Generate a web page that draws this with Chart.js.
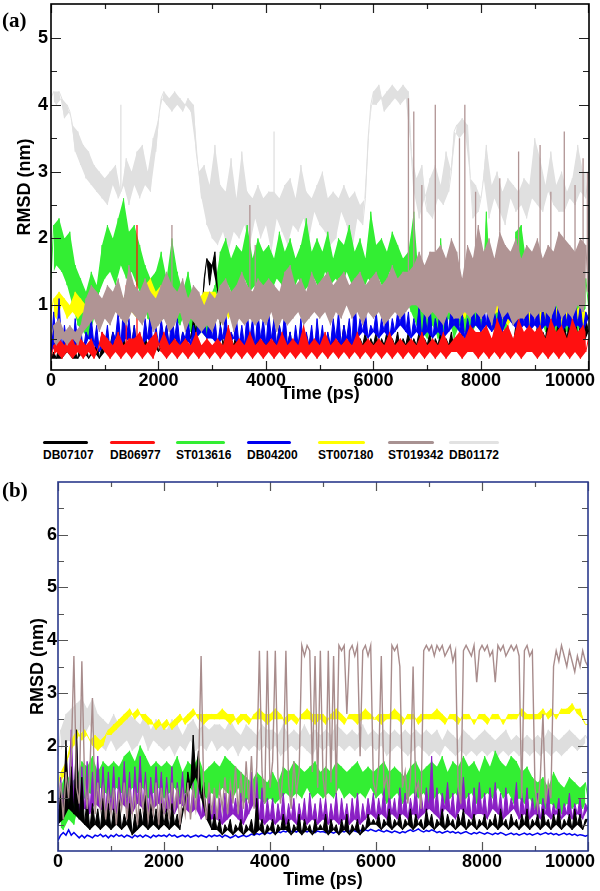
<!DOCTYPE html>
<html>
<head>
<meta charset="utf-8">
<script src="https://cdn.jsdelivr.net/npm/chart.js@4.4.1/dist/chart.umd.min.js"></script>
<style>
body { margin: 0; background: #fff; width: 600px; height: 891px; position: relative; overflow: hidden; font-family: "Liberation Sans", Arial, sans-serif; }
canvas { position: absolute; left: 0; }
#chartA { top: 0; }
#chartB { top: 470px; }
.tag { position: absolute; left: 2px; font-family: "Liberation Serif", "DejaVu Serif", serif; font-weight: bold; font-size: 21px; line-height: 22px; }
.item { position: absolute; top: 441px; }
.item .ln { height: 3px; border-radius: 2px; }
.item .tx { font-weight: bold; font-size: 12px; line-height: 14px; text-align: center; margin-top: 4px; white-space: nowrap; }
</style>
</head>
<body>
<canvas id="chartA" width="600" height="407"></canvas>
<canvas id="chartB" width="600" height="421"></canvas>
<div class="tag" style="top:9px">(a)</div>
<div class="tag" style="top:479px">(b)</div>

<div class="item" style="left:43px;width:45px"><div class="ln" style="background:#000"></div><div class="tx">DB07107</div></div>
<div class="item" style="left:110px;width:45px"><div class="ln" style="background:#ff1010"></div><div class="tx">DB06977</div></div>
<div class="item" style="left:176px;width:49px"><div class="ln" style="background:#33ee33"></div><div class="tx">ST013616</div></div>
<div class="item" style="left:247px;width:44px"><div class="ln" style="background:#0000f0"></div><div class="tx">DB04200</div></div>
<div class="item" style="left:318px;width:47px"><div class="ln" style="background:#ffff00"></div><div class="tx">ST007180</div></div>
<div class="item" style="left:388px;width:46px"><div class="ln" style="background:#a89292"></div><div class="tx">ST019342</div></div>
<div class="item" style="left:449px;width:50px"><div class="ln" style="background:#e2e2e2"></div><div class="tx">DB01172</div></div>

<script>
// sampled every 50 ps
var timePs = [];
for (var t = 0; t <= 10000; t += 50) timePs.push(t);

var names = ['DB07107', 'DB06977', 'ST013616', 'DB04200', 'ST007180', 'ST019342', 'DB01172'];
var xTickLabels = [0, 2000, 4000, 6000, 8000, 10000];
var xMinorTicks = [1000, 3000, 5000, 7000, 9000];
var yTicksA = [1, 2, 3, 4, 5];
var yMinorA = [0.5, 1.5, 2.5, 3.5, 4.5];
var yTicksB = [1, 2, 3, 4, 5, 6];
var yMinorB = [0.5, 1.5, 2.5, 3.5, 4.5, 5.5, 6.5];

// ---- panel (a) ----
var rmsdA_DB07107 = [
0.2,0.3,0.2,0.4,0.2,0.3,0.3,0.4,0.2,0.3,0.2,0.5,0.3,0.4,0.2,0.3,0.3,0.5,0.2,0.4,
0.3,0.5,0.4,0.6,0.3,0.5,0.4,0.6,0.3,0.5,0.4,0.7,0.3,0.5,0.4,0.6,0.3,0.5,0.4,0.6,
0.3,0.5,0.4,0.7,0.3,0.6,0.4,0.5,0.3,0.6,0.4,0.7,0.5,0.8,0.6,0.9,0.8,1.4,1.7,1.3,
1.6,1.8,1.2,0.7,0.4,0.6,0.3,0.5,0.4,0.6,0.3,0.5,0.4,0.6,0.3,0.5,0.4,0.6,0.3,0.5,
0.4,0.6,0.3,0.5,0.4,0.7,0.3,0.5,0.4,0.6,0.3,0.5,0.4,0.6,0.3,0.5,0.4,0.6,0.3,0.5,
0.4,0.6,0.3,0.5,0.4,0.6,0.3,0.5,0.4,0.7,0.3,0.5,0.4,0.6,0.3,0.5,0.4,0.6,0.3,0.5,
0.4,0.6,0.3,0.5,0.4,0.6,0.3,0.5,0.4,0.6,0.3,0.5,0.4,0.6,0.3,0.5,0.4,0.6,0.3,0.5,
0.4,0.6,0.3,0.5,0.4,0.6,0.3,0.5,0.4,0.6,0.3,0.5,0.4,0.6,0.3,0.5,0.4,0.6,0.3,0.5,
0.4,0.6,0.3,0.5,0.4,0.6,0.3,0.5,0.4,0.6,0.3,0.5,0.4,0.7,0.3,0.5,0.4,0.6,0.3,0.5,
0.4,0.7,0.3,0.6,0.5,0.8,0.4,0.7,0.5,0.9,0.4,0.7,0.5,0.8,0.4,0.9,0.5,0.7,0.4,0.8,
0.6];
var rmsdA_DB06977 = [
0.2,0.4,0.3,0.5,0.2,0.4,0.3,0.6,0.2,0.4,0.3,0.5,0.2,0.4,0.3,0.5,0.2,0.3,0.4,0.6,
0.3,0.5,0.2,0.4,0.3,0.6,0.2,0.4,0.3,0.5,0.2,0.5,0.3,0.6,0.2,0.4,0.3,0.5,0.2,0.6,
0.4,0.3,0.6,0.2,0.4,0.3,0.5,0.2,0.4,0.3,0.5,0.2,0.4,0.3,0.6,0.2,0.4,0.3,0.5,0.2,
0.4,0.3,0.5,0.2,0.4,0.3,0.7,0.2,0.4,0.3,0.5,0.2,0.4,0.3,0.6,0.2,0.4,0.3,0.5,0.2,
0.4,0.3,0.5,0.2,0.4,0.3,0.6,0.2,0.4,0.3,0.5,0.2,0.4,0.3,0.7,0.2,0.4,0.3,0.5,0.2,
0.4,0.3,0.6,0.2,0.4,0.3,0.5,0.2,0.4,0.3,0.5,0.2,0.4,0.3,0.6,0.2,0.4,0.3,0.5,0.2,
0.4,0.3,0.5,0.2,0.4,0.3,0.6,0.2,0.4,0.3,0.5,0.2,0.4,0.3,0.5,0.2,0.4,0.3,0.6,0.2,
0.4,0.3,0.5,0.2,0.4,0.3,0.6,0.2,0.4,0.3,0.5,0.3,0.6,0.2,0.5,0.3,0.7,0.3,0.6,0.2,
0.6,0.3,0.7,0.2,0.5,0.3,0.8,0.2,0.6,0.3,0.7,0.2,0.5,0.3,0.8,0.2,0.6,0.3,0.7,0.3,
0.6,0.2,0.7,0.3,0.5,0.2,0.8,0.3,0.6,0.2,0.7,0.3,0.5,0.2,0.8,0.3,0.6,0.2,0.7,0.3,
0.5];
var rmsdA_ST013616 = [
1.4,2.2,1.6,2.3,1.5,2.0,1.3,2.1,1.0,1.6,0.7,1.4,0.6,1.2,0.5,1.5,0.8,1.3,1.2,1.9,
1.4,2.2,1.5,2.0,1.3,2.3,1.6,2.6,1.4,2.1,1.5,2.2,1.3,1.9,1.1,1.6,0.8,1.4,0.7,1.5,
0.9,1.8,0.8,1.4,1.0,2.0,0.8,1.5,0.7,1.2,0.9,1.5,0.6,1.1,0.5,1.0,0.6,0.9,0.5,1.1,
0.7,1.3,1.1,1.8,1.2,2.0,1.3,1.7,1.1,1.9,1.2,1.8,1.4,2.2,1.2,1.7,1.3,2.0,1.1,1.8,
1.3,1.9,1.2,1.7,1.4,2.1,1.3,1.8,1.5,2.0,1.2,1.7,1.4,1.9,1.2,2.3,1.3,1.8,1.4,2.0,
1.2,1.8,1.5,2.1,1.3,1.7,1.4,2.0,1.2,1.9,1.5,2.2,1.3,1.8,1.4,2.0,1.2,1.7,1.4,2.4,
1.3,1.9,1.4,2.0,1.2,1.8,1.5,2.1,1.3,1.9,1.2,1.7,1.1,1.8,0.9,2.4,0.7,1.3,0.6,1.2,
0.5,1.1,0.7,1.3,0.5,2.0,0.6,1.2,0.8,1.4,0.5,1.1,0.7,1.3,0.6,1.6,0.5,1.0,0.7,1.2,
0.6,1.3,2.4,0.8,1.2,0.6,1.1,0.7,1.4,0.6,1.2,0.8,1.3,2.1,1.0,2.2,0.8,1.6,0.7,1.2,
0.9,1.9,0.8,1.3,0.6,1.1,0.7,1.2,0.5,1.0,0.7,1.3,0.6,1.1,0.8,1.2,0.6,1.1,0.9,1.4,
1.0];
var rmsdA_DB04200 = [
0.3,0.9,0.4,1.1,0.3,0.7,0.4,0.6,0.3,0.8,0.4,0.7,0.3,0.6,0.5,0.8,0.4,0.7,0.3,0.6,
0.4,0.7,0.3,0.6,0.5,0.9,0.4,1.0,0.5,0.8,0.4,0.7,0.3,0.6,0.4,0.8,0.5,0.9,0.3,0.7,
0.4,0.8,0.5,0.7,0.4,0.9,0.5,0.8,0.4,0.6,0.5,0.8,0.4,0.7,0.5,0.9,0.6,0.8,0.5,0.9,
0.5,0.8,0.4,0.7,0.5,0.9,0.4,0.6,0.5,0.8,0.4,0.7,0.4,0.9,0.5,0.8,0.4,0.9,0.5,0.8,
0.4,0.9,0.5,0.8,0.4,0.7,0.5,0.9,0.4,0.6,0.3,0.7,0.4,0.8,0.3,0.6,0.4,0.7,0.3,0.8,
0.4,0.7,0.3,0.6,0.4,0.8,0.5,0.9,0.4,0.7,0.5,0.8,0.4,1.2,0.5,0.8,0.6,0.9,0.5,0.7,
0.6,0.9,0.5,0.8,0.6,1.0,0.5,0.8,0.6,0.9,0.7,1.3,0.6,0.9,0.5,0.8,0.6,1.0,0.5,0.9,
0.6,1.0,0.5,0.8,0.6,1.1,0.5,0.9,0.6,1.0,0.7,1.2,0.6,0.9,0.5,0.8,0.6,1.0,0.7,1.1,
0.6,1.0,0.7,1.2,0.6,0.9,0.7,1.1,0.6,1.3,0.8,1.7,0.7,1.8,0.6,1.0,0.7,1.2,0.6,1.1,
0.7,1.2,0.6,1.0,0.7,1.4,0.6,1.7,0.7,1.1,0.6,1.0,0.7,1.2,0.6,1.1,0.7,1.0,0.6,0.9,
0.8];
var rmsdA_ST007180 = [
0.9,1.1,0.8,1.2,1.0,1.1,0.8,1.0,0.9,1.2,0.8,1.1,0.9,1.0,0.8,1.2,0.9,1.1,0.8,1.0,
0.9,1.2,0.8,1.1,1.0,1.3,0.9,1.1,0.8,1.0,0.9,1.2,0.8,1.1,1.0,1.3,0.9,1.4,1.0,1.2,
0.9,1.3,1.0,1.2,0.9,1.1,0.8,1.0,0.9,1.2,0.8,1.1,1.0,1.2,0.9,1.1,1.0,1.2,0.9,1.2,
1.0,1.2,0.9,1.1,1.0,1.2,0.8,1.0,0.9,1.1,1.0,1.3,0.9,1.1,1.0,1.2,0.9,1.0,0.8,1.1,
0.9,1.1,1.0,1.2,0.9,1.1,1.0,1.3,0.9,1.2,1.0,1.1,0.9,1.2,1.0,1.1,0.9,1.2,1.1,1.3,
1.0,1.2,1.1,1.3,1.0,1.2,1.1,1.4,1.0,1.2,1.1,1.3,1.0,1.2,1.1,1.3,1.0,1.2,1.1,1.3,
1.0,1.2,1.1,1.3,1.0,1.2,1.1,1.4,1.2,1.3,1.1,1.2,1.0,1.1,1.2,1.3,1.1,1.2,1.0,1.1,
0.9,1.1,1.0,1.2,0.9,1.1,0.8,1.0,0.9,1.1,1.0,1.2,0.9,1.0,0.8,1.1,1.0,1.2,0.9,1.1,
0.8,1.0,0.9,1.1,0.8,1.0,0.9,1.1,0.8,1.0,0.7,0.9,0.8,1.0,0.7,0.9,0.8,0.9,0.7,0.9,
0.8,1.0,0.7,0.9,0.8,1.0,0.7,0.9,0.8,1.0,0.7,0.9,0.8,1.0,0.7,0.9,0.8,1.0,0.7,0.9,
0.8];
var rmsdA_ST019342 = [
0.5,0.7,0.4,0.8,0.5,0.6,0.4,0.7,0.5,0.6,0.4,0.7,0.6,1.1,0.7,1.3,0.8,1.2,0.6,1.1,
0.8,1.3,0.7,1.2,0.9,1.4,0.8,1.1,0.7,1.6,0.9,1.3,0.8,1.2,0.7,1.4,0.9,1.2,0.6,1.1,
0.7,1.3,0.8,1.5,0.6,1.3,0.7,1.2,0.9,1.4,0.6,1.1,0.8,1.3,0.7,1.2,0.6,1.0,0.7,1.2,
0.6,1.1,0.8,1.3,0.7,1.4,0.9,1.2,0.6,1.3,0.8,1.5,0.7,1.3,0.8,1.2,0.7,1.4,0.8,1.3,
0.7,1.4,0.9,1.3,0.6,1.2,0.8,1.5,0.7,1.6,0.8,1.3,0.9,1.4,0.7,1.2,0.8,1.5,0.9,1.3,
0.8,1.4,0.9,1.5,0.7,1.3,0.9,1.4,0.8,1.5,1.0,1.3,0.8,1.4,0.9,1.5,0.7,1.3,0.9,1.4,
0.8,1.5,0.9,1.3,0.7,1.4,0.8,1.6,0.9,1.4,0.8,1.5,0.9,1.5,1.0,1.6,1.0,1.8,0.9,1.6,
0.8,1.8,0.9,1.8,0.8,1.9,0.7,1.7,0.9,2.0,0.8,1.8,0.8,1.4,0.9,1.9,0.8,1.7,0.9,2.2,
0.8,1.8,0.9,2.0,0.7,1.7,1.0,2.1,0.8,1.9,0.9,1.8,0.7,2.0,0.8,1.7,0.8,1.9,0.9,1.8,
0.8,2.0,0.9,1.7,0.9,1.9,0.8,1.8,1.0,2.1,0.8,2.0,0.9,1.9,0.8,1.8,1.0,2.0,0.9,1.9,
1.2];
var rmsdA_DB01172 = [
4.1,4.2,4.0,4.2,4.1,3.8,4.0,3.9,3.7,3.3,3.6,3.1,3.4,2.9,3.3,2.8,3.1,2.7,3.0,2.6,
2.9,2.5,3.0,2.8,3.1,2.6,2.7,2.8,3.2,2.5,3.0,2.8,3.3,2.6,3.4,2.8,3.0,2.7,3.5,3.3,
3.8,4.1,4.2,4.0,4.1,3.9,4.2,4.0,4.1,3.9,4.0,4.1,3.9,4.0,3.3,3.0,2.6,3.1,2.2,2.8,
2.0,3.4,1.9,2.8,2.1,2.7,1.8,3.2,2.1,2.6,2.0,3.3,2.2,2.7,1.9,2.6,2.3,2.8,2.0,2.6,
2.2,2.7,1.8,2.7,2.3,2.6,2.1,2.8,1.9,2.9,2.2,2.6,2.1,3.1,2.3,2.7,2.0,2.6,2.4,2.8,
2.2,3.0,2.1,2.6,1.9,2.7,2.0,2.6,2.4,2.8,2.2,2.6,1.8,2.7,2.3,2.5,2.2,2.6,3.5,4.0,
4.2,4.0,4.3,4.1,3.9,4.2,4.0,4.3,4.1,4.2,4.0,4.3,4.1,4.2,3.3,2.7,2.9,2.3,3.1,2.6,
2.4,2.9,2.3,3.1,2.6,2.8,2.5,3.3,2.7,3.0,3.6,3.7,3.5,3.8,3.6,3.7,2.9,2.3,2.8,2.4,
2.6,2.9,3.4,2.3,2.8,2.6,3.0,2.4,2.7,2.2,2.9,2.6,2.8,2.4,2.7,2.5,2.9,2.3,2.8,2.6,
3.5,2.5,3.2,2.4,2.8,2.7,3.3,2.5,2.8,2.4,3.0,2.4,2.7,2.6,2.9,2.5,3.4,2.7,3.0,2.6,
3.0];
// isolated spikes [time ps, peak nm]
var spikesA_DB06977 = [[1400, 1.3], [1600, 2.2]];
var spikesA_ST019342 = [[2250, 2.2], [3700, 2.5], [3800, 1.9], [6650, 4.1], [6750, 3.9], [6900, 2.8],
    [7150, 4.0], [7600, 3.5], [7700, 4.0], [7900, 2.7], [8350, 2.9], [8700, 3.3], [9100, 3.4],
    [9300, 2.7], [9550, 3.6], [9750, 2.8], [9900, 3.2], [9980, 3.0]];
var spikesA_DB01172 = [[1300, 4.0], [4150, 3.6]];

// ---- panel (b) ----
var rmsdB_DB07107 = [
0.5,1.2,0.6,2.1,0.8,1.6,0.7,2.3,0.6,1.4,0.5,1.0,0.4,0.9,0.5,0.8,0.4,1.0,0.5,0.9,
0.4,0.8,0.5,1.0,0.4,0.7,0.5,0.9,0.3,0.7,0.4,0.8,0.5,1.1,0.4,0.9,0.5,0.8,0.4,0.9,
0.5,0.8,0.4,0.9,0.5,0.7,0.4,0.8,0.9,1.5,1.2,2.2,1.4,1.9,1.0,1.3,0.6,0.9,0.4,0.7,
0.4,0.6,0.3,0.5,0.4,0.6,0.3,0.5,0.4,0.6,0.3,0.5,0.4,0.6,0.3,1.0,0.4,0.6,0.3,0.5,
0.4,0.6,0.3,0.5,0.4,0.7,0.4,0.6,0.3,0.5,0.4,0.7,0.3,0.6,0.4,0.5,0.3,0.6,0.4,0.5,
0.4,0.7,0.3,0.6,0.4,0.5,0.3,0.6,0.4,0.7,0.3,0.5,0.4,0.6,0.3,0.5,0.4,0.7,0.5,0.6,
0.5,0.7,0.4,0.6,0.5,0.8,0.4,0.6,0.5,0.7,0.4,0.6,0.5,0.8,0.4,0.7,0.5,0.6,0.4,0.8,
0.5,0.7,0.4,0.6,0.5,0.8,0.4,0.7,0.5,0.6,0.4,0.7,0.5,0.8,0.4,0.6,0.5,0.7,0.4,0.6,
0.5,0.7,0.4,0.6,0.5,0.7,0.4,0.8,0.5,0.6,0.4,0.7,0.5,0.6,0.4,0.7,0.5,0.8,0.4,0.6,
0.5,0.7,0.4,0.8,0.5,0.6,0.4,0.7,0.5,0.8,0.4,0.6,0.5,0.7,0.4,0.8,0.5,0.7,0.4,0.6,
0.6];
var rmsdB_DB06977 = [
0.6,1.4,0.8,1.9,1.0,2.3,0.9,2.1,0.7,1.6,0.8,1.7,0.7,1.5,0.9,1.8,0.8,1.6,0.7,1.5,
0.8,1.6,0.7,1.4,0.9,1.7,0.8,1.5,0.7,1.6,0.9,1.8,0.8,1.5,0.7,1.4,0.8,1.6,0.9,1.5,
0.7,1.4,0.8,1.6,0.7,1.3,0.9,1.5,0.8,1.4,0.7,1.3,0.8,1.2,0.6,1.1,0.7,1.2,0.6,1.1,
0.6,1.0,0.5,1.1,0.6,1.2,0.7,1.0,0.6,1.1,0.5,1.0,0.7,1.5,0.9,1.4,0.6,1.2,0.5,1.0,
0.6,1.0,0.5,0.9,0.6,1.1,0.5,0.9,0.6,1.0,0.5,0.9,0.6,1.0,0.5,1.1,0.6,0.9,0.5,1.0,
0.6,1.0,0.5,0.9,0.6,1.1,0.5,1.0,0.6,0.9,0.5,1.0,0.6,1.1,0.5,0.9,0.6,1.0,0.7,1.1,
0.6,1.0,0.7,1.2,0.6,1.1,0.7,1.0,0.6,1.2,0.7,1.1,0.6,1.0,0.7,1.3,0.6,1.1,0.7,1.2,
0.8,1.8,0.7,1.2,0.6,1.1,0.8,1.3,0.7,1.1,0.6,1.2,0.8,1.4,0.7,1.1,0.6,1.2,0.7,1.3,
0.7,1.1,0.6,1.2,0.8,1.3,0.7,1.1,0.6,1.2,0.7,1.0,0.8,1.3,0.6,1.1,0.7,1.2,0.6,1.0,
0.7,1.1,0.6,1.0,0.7,1.2,0.6,0.9,0.7,1.0,0.6,0.9,0.7,1.1,0.6,0.9,0.7,1.0,0.6,0.9,
0.8];
var rmsdB_ST013616 = [
0.5,1.2,0.4,1.5,0.6,1.3,0.5,1.4,0.9,1.7,1.0,1.6,1.1,1.8,1.0,1.5,1.2,1.7,1.1,1.6,
1.0,1.7,1.2,1.6,1.1,1.8,1.0,1.9,1.2,1.7,1.1,2.0,1.2,1.8,1.0,1.6,1.1,1.7,1.2,1.6,
1.0,1.7,1.1,1.6,1.2,1.8,1.0,1.5,1.1,1.7,1.2,1.6,1.0,1.8,1.1,1.5,1.0,1.6,1.1,1.7,
1.0,1.6,1.2,1.8,1.1,1.7,1.0,1.6,1.2,1.5,0.9,1.4,1.0,1.3,0.9,1.5,1.0,1.4,0.9,1.3,
1.0,1.5,0.9,1.3,1.0,1.6,1.1,1.5,1.0,1.7,1.1,1.6,1.0,1.5,1.2,1.6,1.0,1.7,1.1,1.5,
1.0,1.6,1.1,1.5,1.0,1.7,1.2,1.6,1.0,1.5,1.1,1.6,1.0,1.7,1.1,1.5,1.0,1.6,1.2,1.5,
1.0,1.6,1.1,1.7,0.9,1.5,1.0,1.6,1.1,1.5,0.9,1.4,1.0,1.6,1.1,1.7,1.0,1.5,1.1,1.6,
0.9,1.7,1.0,1.6,1.1,1.8,0.9,1.5,1.0,1.7,1.1,1.6,0.9,1.8,1.0,1.6,1.1,1.7,0.9,1.5,
1.0,1.8,1.1,1.6,1.0,1.9,1.2,1.7,1.0,1.6,1.1,1.8,0.9,1.7,1.0,1.5,0.9,1.6,1.0,1.4,
0.8,1.3,0.9,1.4,0.8,1.2,0.9,1.5,0.8,1.3,0.7,1.2,0.9,1.4,0.8,1.3,0.9,1.2,0.8,1.3,
1.0];
var rmsdB_DB04200 = [
0.2,0.3,0.35,0.3,0.4,0.3,0.35,0.3,0.25,0.3,0.25,0.3,0.28,0.25,0.3,0.28,0.32,0.27,0.3,0.25,
0.3,0.27,0.32,0.28,0.3,0.26,0.3,0.28,0.25,0.3,0.27,0.3,0.26,0.3,0.28,0.25,0.3,0.27,0.3,0.28,
0.3,0.27,0.32,0.28,0.3,0.26,0.28,0.3,0.27,0.3,0.26,0.28,0.3,0.27,0.3,0.28,0.26,0.3,0.27,0.3,
0.28,0.3,0.26,0.3,0.28,0.25,0.27,0.3,0.26,0.28,0.3,0.27,0.29,0.32,0.3,0.33,0.31,0.34,0.32,0.35,
0.33,0.36,0.34,0.37,0.35,0.38,0.36,0.39,0.37,0.38,0.36,0.4,0.37,0.38,0.36,0.39,0.37,0.35,0.38,0.36,
0.37,0.35,0.38,0.36,0.34,0.37,0.35,0.38,0.36,0.39,0.37,0.4,0.38,0.36,0.39,0.37,0.4,0.38,0.41,0.39,
0.37,0.4,0.38,0.36,0.39,0.37,0.35,0.38,0.36,0.34,0.37,0.35,0.38,0.4,0.37,0.39,0.42,0.38,0.36,0.39,
0.37,0.4,0.38,0.35,0.37,0.34,0.36,0.38,0.35,0.37,0.34,0.36,0.33,0.35,0.37,0.34,0.32,0.35,0.33,0.36,
0.34,0.32,0.35,0.33,0.31,0.34,0.32,0.35,0.33,0.3,0.32,0.34,0.31,0.33,0.3,0.32,0.34,0.31,0.33,0.3,
0.32,0.34,0.31,0.33,0.35,0.32,0.34,0.31,0.33,0.3,0.32,0.34,0.31,0.33,0.3,0.32,0.29,0.31,0.3,0.28,
0.3];
var rmsdB_ST007180 = [
1.2,1.5,1.4,1.7,1.8,2.1,2.0,2.3,2.2,2.1,2.3,2.2,2.1,2.0,2.2,1.9,2.1,2.0,2.2,2.3,
2.2,2.4,2.3,2.5,2.4,2.6,2.5,2.7,2.6,2.5,2.7,2.6,2.5,2.6,2.4,2.5,2.4,2.3,2.5,2.4,
2.3,2.5,2.4,2.3,2.5,2.4,2.6,2.5,2.4,2.6,2.5,2.7,2.6,2.5,2.6,2.4,2.6,2.5,2.6,2.5,
2.6,2.5,2.7,2.5,2.6,2.4,2.6,2.5,2.4,2.6,2.5,2.6,2.4,2.5,2.6,2.5,2.7,2.5,2.6,2.4,
2.6,2.5,2.7,2.5,2.6,2.5,2.4,2.6,2.5,2.6,2.4,2.5,2.6,2.5,2.7,2.5,2.6,2.4,2.6,2.5,
2.6,2.4,2.5,2.6,2.5,2.7,2.5,2.6,2.4,2.5,2.6,2.5,2.6,2.4,2.6,2.5,2.7,2.5,2.6,2.5,
2.5,2.6,2.4,2.6,2.5,2.6,2.5,2.7,2.5,2.6,2.4,2.5,2.6,2.5,2.6,2.5,2.4,2.6,2.5,2.6,
2.5,2.6,2.5,2.7,2.5,2.6,2.4,2.5,2.6,2.5,2.6,2.4,2.5,2.6,2.5,2.6,2.5,2.4,2.5,2.6,
2.5,2.6,2.4,2.5,2.6,2.5,2.6,2.5,2.4,2.5,2.6,2.5,2.6,2.5,2.6,2.7,2.5,2.6,2.5,2.6,
2.5,2.6,2.5,2.7,2.6,2.5,2.7,2.6,2.5,2.6,2.7,2.6,2.7,2.6,2.8,2.7,2.6,2.7,2.5,2.4,
2.4];
var rmsdB_ST019342 = [
0.8,1.3,0.6,1.5,1.0,1.8,3.7,1.2,0.9,3.6,1.4,0.8,1.5,2.9,0.7,1.3,0.8,1.2,0.6,1.1,
0.7,1.2,0.5,1.1,0.8,1.3,0.6,1.2,0.7,1.1,0.5,1.3,0.8,1.2,0.6,1.0,0.7,1.3,0.5,1.2,
0.7,1.1,0.6,1.3,0.8,1.2,0.5,1.1,0.7,1.3,0.6,1.2,0.8,1.4,3.7,1.1,0.6,1.3,0.7,1.2,
0.6,1.2,0.8,1.4,0.7,1.3,0.9,1.6,0.7,1.5,0.8,1.7,0.9,1.8,0.8,1.6,3.8,1.5,0.9,3.8,
1.2,1.7,3.8,1.4,0.9,1.6,3.8,1.3,0.8,1.7,1.1,1.5,3.9,3.7,3.9,3.8,1.5,3.7,1.2,3.8,
1.4,1.0,3.8,1.3,3.7,1.1,3.9,3.8,3.9,2.6,3.8,3.9,3.7,3.9,1.8,3.8,3.9,3.7,3.9,1.3,
1.1,1.6,3.7,1.2,1.4,1.0,3.9,3.8,3.9,3.5,1.2,1.5,0.9,1.4,3.5,1.1,1.3,0.8,3.8,3.9,
3.8,3.9,3.7,3.9,3.8,3.9,3.7,3.8,3.9,3.6,3.8,1.2,0.9,3.8,3.9,3.8,3.7,3.9,3.2,3.8,
3.9,3.8,3.9,3.7,3.8,3.2,3.9,3.8,3.9,3.7,3.8,3.9,3.8,3.9,3.7,1.0,3.8,3.9,3.7,3.8,
1.2,0.8,1.4,2.6,0.9,1.3,1.0,3.5,3.8,3.6,3.9,3.7,3.5,3.8,3.6,3.4,3.7,3.5,3.8,3.6,
3.5];
var rmsdB_DB01172 = [
1.8,2.3,2.0,2.6,2.1,2.7,2.0,2.8,2.3,2.9,2.2,2.7,2.4,2.9,2.1,2.6,2.0,2.5,1.9,2.4,
2.1,2.6,1.9,2.4,2.0,2.5,2.1,2.6,1.9,2.5,2.0,2.4,2.2,2.6,1.9,2.3,2.1,2.5,2.0,2.4,
1.9,2.3,2.0,2.5,1.8,2.4,2.0,2.2,1.9,2.4,2.1,2.5,1.9,2.3,2.0,2.4,1.9,2.3,2.1,2.4,
1.9,2.4,2.0,2.3,1.9,2.5,2.0,2.3,1.8,2.2,2.0,2.4,1.9,2.3,2.0,2.2,1.9,2.4,2.0,2.3,
1.9,2.3,2.0,2.2,1.8,2.4,1.9,2.2,2.0,2.3,1.9,2.2,2.0,2.4,1.9,2.2,1.8,2.3,2.0,2.2,
1.9,2.3,2.0,2.2,1.9,2.4,2.0,2.3,1.9,2.2,2.0,2.3,1.9,2.2,2.0,2.4,1.9,2.2,2.0,2.3,
1.9,2.2,2.0,2.3,1.8,2.2,1.9,2.3,2.0,2.2,1.9,2.3,1.8,2.2,1.9,2.3,2.0,2.2,1.9,2.3,
1.8,2.2,1.9,2.3,1.8,2.1,2.0,2.3,1.9,2.2,1.8,2.1,1.9,2.3,1.8,2.2,1.9,2.1,1.8,2.2,
1.9,2.3,1.8,2.2,1.9,2.1,1.8,2.2,1.9,2.3,1.8,2.1,1.9,2.2,1.8,2.1,1.9,2.2,1.8,2.1,
1.9,2.2,1.8,2.1,1.9,2.3,1.8,2.2,1.9,2.1,1.8,2.2,1.9,2.3,2.0,2.2,1.9,2.1,2.0,2.2,
2.1];

var valuesA = [rmsdA_DB07107, rmsdA_DB06977, rmsdA_ST013616, rmsdA_DB04200, rmsdA_ST007180, rmsdA_ST019342, rmsdA_DB01172];
var valuesB = [rmsdB_DB07107, rmsdB_DB06977, rmsdB_ST013616, rmsdB_DB04200, rmsdB_ST007180, rmsdB_ST019342, rmsdB_DB01172];
var spikesA = [null, spikesA_DB06977, null, null, null, spikesA_ST019342, spikesA_DB01172];
var spikesB = [null, null, null, null, null, null, null];

// styles
var colorsA = ['#000000', '#ff1010', '#33ee33', '#0000f0', '#ffff00', '#b09494', '#e0e0e0'];
var colorsB = ['#000000', '#8a1fc4', '#33ee33', '#0000f0', '#ffff00', '#a88c8c', '#dedede'];
var widthsA = [1, 1, 1, 1, 1, 1, 1];
var widthsB = [1, 1, 1, 1.5, 1, 1.4, 1];
// noise band: 0 line only, 1 teeth filled, 2 filled between both edges
var bandA = [1, 2, 2, 1, 2, 2, 2];
var bandB = [1, 1, 2, 0, 2, 0, 2];
var layerA = [4, 1, 5, 2, 3, 0, 6];   // lower = on top
var layerB = [1, 2, 3, 4, 5, 0, 6];
var FONT = '"Liberation Sans", Arial, sans-serif';

function makeSets(vals, cols, widths, layer, band, spikes) {
    var sets = vals.map(function(v, i) {
        return {
            label: names[i],
            data: v.map(function(y, k) { return { x: timePs[k], y: y }; }),
            borderColor: cols[i],
            borderWidth: widths[i],
            pointRadius: 0,
            tension: 0,
            fill: false,
            order: layer[i]
        };
    });
    vals.forEach(function(v, i) {
        var all = sets[i].data;
        if (band[i] > 0) {
            sets.push({
                label: names[i] + ' lo',
                data: all.filter(function(p, k) { return k % 2 === 0; }),
                borderColor: 'rgba(0,0,0,0)', borderWidth: 0, pointRadius: 0,
                fill: false, order: 90
            });
            var edge = sets.length - 1;
            if (band[i] === 1) {
                sets[i].fill = edge;
                sets[i].backgroundColor = cols[i];
            } else {
                sets.push({
                    label: names[i] + ' hi',
                    data: all.filter(function(p, k) { return k % 2 === 1; }),
                    borderColor: 'rgba(0,0,0,0)', borderWidth: 0, pointRadius: 0,
                    backgroundColor: cols[i],
                    fill: edge, order: layer[i]
                });
            }
        }
        if (spikes[i]) {
            var pts = [];
            spikes[i].forEach(function(s) {
                var base = v[Math.round(s[0] / 50)];
                pts.push({ x: s[0], y: base }, { x: s[0], y: s[1] }, { x: s[0], y: null });
            });
            sets.push({
                label: names[i] + ' spikes', data: pts,
                borderColor: cols[i], borderWidth: 1.3, pointRadius: 0,
                fill: false, spanGaps: false, order: layer[i]
            });
        }
    });
    return sets;
}

// frame, inward ticks and x labels
var axesBox = {
    id: 'axesBox',
    afterDatasetsDraw: function(chart, args, o) {
        var ctx = chart.ctx, a = chart.chartArea, x = chart.scales.x, y = chart.scales.y;
        ctx.save();
        ctx.strokeStyle = o.tick;
        ctx.lineWidth = 1.2;
        ctx.beginPath();
        function vx(v, len) {
            var p = Math.round(x.getPixelForValue(v)) + 0.5;
            ctx.moveTo(p, a.bottom); ctx.lineTo(p, a.bottom - len);
            ctx.moveTo(p, a.top); ctx.lineTo(p, a.top + len);
        }
        function vy(v, len) {
            var p = Math.round(y.getPixelForValue(v)) + 0.5;
            ctx.moveTo(a.left, p); ctx.lineTo(a.left + len, p);
            ctx.moveTo(a.right, p); ctx.lineTo(a.right - len, p);
        }
        xTickLabels.forEach(function(v) { vx(v, 9); });
        xMinorTicks.forEach(function(v) { vx(v, 5); });
        o.yMajor.forEach(function(v) { vy(v, 10); });
        o.yMinor.forEach(function(v) { vy(v, 6); });
        ctx.stroke();
        ctx.strokeStyle = o.frame;
        ctx.lineWidth = 1.6;
        ctx.strokeRect(a.left, a.top, a.right - a.left, a.bottom - a.top);

        ctx.fillStyle = '#000';
        ctx.font = 'bold 18px ' + FONT;
        ctx.textAlign = 'center';
        ctx.textBaseline = 'middle';
        xTickLabels.forEach(function(v) {
            var s = String(v);
            var w = ctx.measureText(s).width;
            var px = Math.min(x.getPixelForValue(v), chart.width - 5 - w / 2);
            ctx.fillText(s, px, a.bottom + 11);
        });
        ctx.restore();
    }
};

function makeChart(id, p) {
    return new Chart(document.getElementById(id), {
        type: 'line',
        data: { datasets: makeSets(p.values, p.colors, p.widths, p.layer, p.band, p.spikes) },
        plugins: [axesBox],
        options: {
            responsive: false,
            animation: false,
            devicePixelRatio: 1,
            events: [],
            layout: { padding: { left: 0, right: p.padRight, top: p.padTop, bottom: 0 } },
            plugins: {
                legend: { display: false },
                tooltip: { enabled: false },
                filler: { propagate: false },
                axesBox: { tick: p.tick, frame: p.frame, yMajor: p.yTicks, yMinor: p.yMinor }
            },
            scales: {
                x: {
                    type: 'linear', min: 0, max: p.xMax,
                    ticks: { display: false },
                    grid: { display: false, drawTicks: false },
                    border: { display: false },
                    title: { display: true, text: 'Time (ps)', color: '#000',
                             font: { family: FONT, size: 18, weight: 'bold' },
                             padding: { top: 0, bottom: p.xTitlePad } },
                    afterFit: function(s) { s.height = p.xBox; s.paddingLeft = 0; s.paddingRight = 0; }
                },
                y: {
                    type: 'linear', min: p.yMin, max: p.yMax,
                    afterBuildTicks: function(s) { s.ticks = p.yTicks.map(function(v) { return { value: v }; }); },
                    ticks: { color: '#000', padding: p.yLabelPad, font: { family: FONT, size: 18, weight: 'bold' } },
                    grid: { display: false, drawTicks: false },
                    border: { display: false },
                    title: { display: true, text: 'RMSD (nm)', color: '#000',
                             font: { family: FONT, size: 18, weight: 'bold' },
                             padding: { top: p.yTitlePad, bottom: 0 } },
                    afterFit: function(s) { s.width = p.yBox; s.paddingTop = 0; s.paddingBottom = 0; }
                }
            }
        }
    });
}

makeChart('chartA', {
    values: valuesA, colors: colorsA, widths: widthsA, layer: layerA, band: bandA, spikes: spikesA,
    yMin: 0.03, yMax: 5.51, yTicks: yTicksA, yMinor: yMinorA, xMax: 10010,
    padTop: 4, padRight: 11, xBox: 37, yBox: 51, xTitlePad: 2, yTitlePad: 14, yLabelPad: 3,
    tick: '#222', frame: '#000'
});

makeChart('chartB', {
    values: valuesB, colors: colorsB, widths: widthsB, layer: layerB, band: bandB, spikes: spikesB,
    yMin: 0, yMax: 7, yTicks: yTicksB, yMinor: yMinorB, xMax: 10000,
    padTop: 12, padRight: 12, xBox: 40, yBox: 58, xTitlePad: 0, yTitlePad: 27, yLabelPad: 1,
    tick: '#555', frame: '#2b3a8c'
});
</script>
</body>
</html>
